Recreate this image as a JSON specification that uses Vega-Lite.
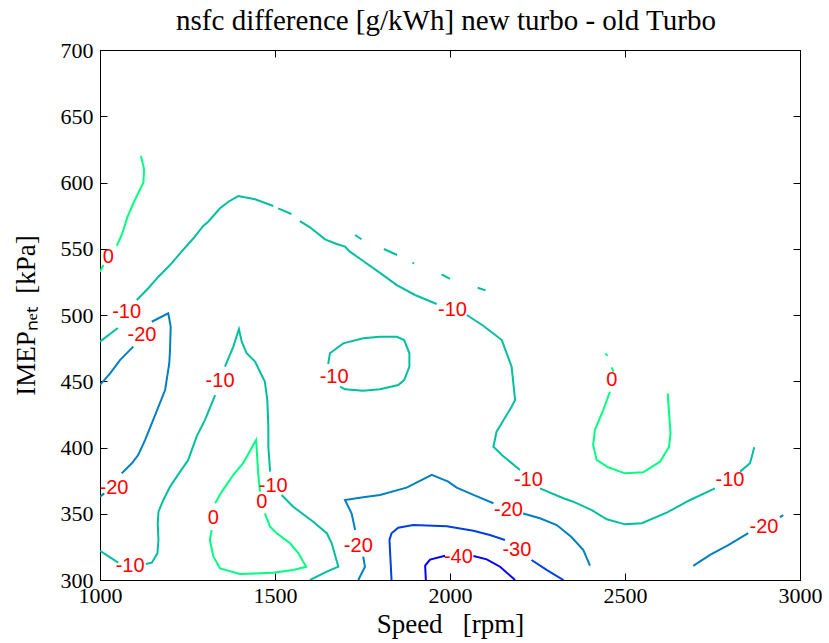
{
"$schema": "https://vega.github.io/schema/vega-lite/v6.json",
"width": 700, "height": 530,
"autosize": {"type": "none"},
"padding": {"left": 100, "top": 50, "right": 29, "bottom": 63},
"background": "white",
"title": {"text": "nsfc difference [g/kWh] new turbo - old Turbo", "font": "Liberation Serif", "fontSize": 29, "fontWeight": "normal", "color": "black", "offset": 3, "dx": -4},
"config": {"view": {"stroke": "black", "strokeWidth": 1}, "axis": {"grid": false, "domainColor": "black", "tickColor": "black", "labelColor": "black", "titleColor": "black", "labelFont": "Liberation Serif", "titleFont": "Liberation Serif", "labelFontSize": 22, "titleFontSize": 27, "titleFontWeight": "normal", "labelFlush": false, "labelOverlap": false, "tickSize": -7, "domainWidth": 1}},
"datasets": {
"lines": [
{"s":1,"l":0,"x":1117,"y":620.2},{"s":1,"l":0,"x":1126,"y":610},{"s":1,"l":0,"x":1124,"y":599.9},{"s":1,"l":0,"x":1109,"y":591.9},{"s":1,"l":0,"x":1093,"y":583},{"s":1,"l":0,"x":1078,"y":573.7},{"s":1,"l":0,"x":1064,"y":561.7},{"s":1,"l":0,"x":1048,"y":552.1},
{"s":2,"l":0,"x":1010,"y":537.7},{"s":2,"l":0,"x":1000,"y":532.7},
{"s":3,"l":-10,"x":1000,"y":479.9},{"s":3,"l":-10,"x":1051,"y":490.2},
{"s":4,"l":-10,"x":1105,"y":511.3},{"s":4,"l":-10,"x":1138,"y":520.2},{"s":4,"l":-10,"x":1167,"y":528.9},{"s":4,"l":-10,"x":1200,"y":537.7},{"s":4,"l":-10,"x":1233,"y":547.8},{"s":4,"l":-10,"x":1267,"y":557.9},{"s":4,"l":-10,"x":1295,"y":567.2},{"s":4,"l":-10,"x":1309,"y":570.4},{"s":4,"l":-10,"x":1343,"y":580.5},{"s":4,"l":-10,"x":1367,"y":585.5},{"s":4,"l":-10,"x":1395,"y":589.8},{"s":4,"l":-10,"x":1443,"y":587.3},{"s":4,"l":-10,"x":1495,"y":582.3},
{"s":5,"l":-10,"x":1509,"y":580.5},{"s":5,"l":-10,"x":1547,"y":576.2},
{"s":6,"l":-10,"x":1571,"y":570.9},{"s":6,"l":-10,"x":1600,"y":566.2},{"s":6,"l":-10,"x":1643,"y":557.1},{"s":6,"l":-10,"x":1676,"y":553.6},{"s":6,"l":-10,"x":1700,"y":551.6},{"s":6,"l":-10,"x":1714,"y":547.8},{"s":6,"l":-10,"x":1748,"y":541.5},{"s":6,"l":-10,"x":1805,"y":530.9},{"s":6,"l":-10,"x":1848,"y":522.6},{"s":6,"l":-10,"x":1900,"y":515.1},{"s":6,"l":-10,"x":1962,"y":508.3},
{"s":7,"l":-10,"x":2048,"y":500},{"s":7,"l":-10,"x":2095,"y":491.9},{"s":7,"l":-10,"x":2148,"y":481.1},{"s":7,"l":-10,"x":2176,"y":461},{"s":7,"l":-10,"x":2186,"y":435.9},{"s":7,"l":-10,"x":2176,"y":430.8},{"s":7,"l":-10,"x":2133,"y":411.9},{"s":7,"l":-10,"x":2124,"y":400.6},{"s":7,"l":-10,"x":2148,"y":394.3},{"s":7,"l":-10,"x":2200,"y":383},
{"s":8,"l":-10,"x":2257,"y":369.2},{"s":8,"l":-10,"x":2324,"y":361.7},{"s":8,"l":-10,"x":2352,"y":359.1},{"s":8,"l":-10,"x":2405,"y":352.8},{"s":8,"l":-10,"x":2448,"y":345.8},{"s":8,"l":-10,"x":2500,"y":342},{"s":8,"l":-10,"x":2548,"y":342.8},{"s":8,"l":-10,"x":2619,"y":350.8},{"s":8,"l":-10,"x":2686,"y":360.4},{"s":8,"l":-10,"x":2757,"y":369.2},
{"s":9,"l":-10,"x":2829,"y":381.8},{"s":9,"l":-10,"x":2857,"y":388.1},{"s":9,"l":-10,"x":2865,"y":395.6},{"s":9,"l":-10,"x":2869,"y":400.2},
{"s":10,"l":-10,"x":1729,"y":560.4},{"s":10,"l":-10,"x":1747,"y":557.2},
{"s":11,"l":-10,"x":1811,"y":549.8},{"s":11,"l":-10,"x":1849,"y":545.3},
{"s":12,"l":-10,"x":1893,"y":539.5},{"s":12,"l":-10,"x":1897,"y":538.8},
{"s":13,"l":-10,"x":1976,"y":530.7},{"s":13,"l":-10,"x":2000,"y":527.2},
{"s":14,"l":-10,"x":2079,"y":520.6},{"s":14,"l":-10,"x":2102,"y":518.6},
{"s":15,"l":-10,"x":1652,"y":463},{"s":15,"l":-10,"x":1657,"y":471.1},{"s":15,"l":-10,"x":1695,"y":478.6},{"s":15,"l":-10,"x":1752,"y":482.4},{"s":15,"l":-10,"x":1800,"y":483.6},{"s":15,"l":-10,"x":1848,"y":483.6},{"s":15,"l":-10,"x":1869,"y":481.1},{"s":15,"l":-10,"x":1884,"y":471.1},{"s":15,"l":-10,"x":1884,"y":461},{"s":15,"l":-10,"x":1869,"y":450.9},{"s":15,"l":-10,"x":1852,"y":447.2},{"s":15,"l":-10,"x":1800,"y":443.9},{"s":15,"l":-10,"x":1752,"y":442.9},{"s":15,"l":-10,"x":1700,"y":443.9},{"s":15,"l":-10,"x":1686,"y":445.9},
{"s":16,"l":-20,"x":1000,"y":362.9},{"s":16,"l":-20,"x":1012,"y":365.4},
{"s":17,"l":-20,"x":1062,"y":380.5},{"s":17,"l":-20,"x":1091,"y":388.1},{"s":17,"l":-20,"x":1109,"y":394.3},{"s":17,"l":-20,"x":1129,"y":405.7},{"s":17,"l":-20,"x":1152,"y":420.8},{"s":17,"l":-20,"x":1186,"y":443.4},{"s":17,"l":-20,"x":1198,"y":463.6},{"s":17,"l":-20,"x":1200,"y":473.6},{"s":17,"l":-20,"x":1202,"y":491.2},{"s":17,"l":-20,"x":1195,"y":501.3},{"s":17,"l":-20,"x":1148,"y":494.9},
{"s":18,"l":-20,"x":1095,"y":476.1},{"s":18,"l":-20,"x":1057,"y":466},{"s":18,"l":-20,"x":1029,"y":456},{"s":18,"l":-20,"x":1000,"y":447.2},
{"s":19,"l":-10,"x":1000,"y":322.1},{"s":19,"l":-10,"x":1052,"y":313.1},
{"s":20,"l":-10,"x":1131,"y":312.1},{"s":20,"l":-10,"x":1148,"y":313.1},{"s":20,"l":-10,"x":1164,"y":320.1},{"s":20,"l":-10,"x":1167,"y":330.2},{"s":20,"l":-10,"x":1165,"y":342.8},{"s":20,"l":-10,"x":1167,"y":351.6},{"s":20,"l":-10,"x":1181,"y":360.4},{"s":20,"l":-10,"x":1200,"y":370.4},{"s":20,"l":-10,"x":1229,"y":381.8},{"s":20,"l":-10,"x":1252,"y":390.6},{"s":20,"l":-10,"x":1276,"y":408.2},{"s":20,"l":-10,"x":1300,"y":420.8},{"s":20,"l":-10,"x":1329,"y":439.6},
{"s":21,"l":-10,"x":1357,"y":461},{"s":21,"l":-10,"x":1381,"y":476.1},{"s":21,"l":-10,"x":1397,"y":489.4},{"s":21,"l":-10,"x":1405,"y":479.9},{"s":21,"l":-10,"x":1419,"y":471.1},{"s":21,"l":-10,"x":1443,"y":464.8},{"s":21,"l":-10,"x":1457,"y":457.2},{"s":21,"l":-10,"x":1471,"y":449.7},{"s":21,"l":-10,"x":1478,"y":435.9},{"s":21,"l":-10,"x":1481,"y":415.7},{"s":21,"l":-10,"x":1481,"y":400.6},{"s":21,"l":-10,"x":1486,"y":381.8},
{"s":22,"l":-10,"x":1519,"y":364.2},{"s":22,"l":-10,"x":1552,"y":355.3},{"s":22,"l":-10,"x":1609,"y":344},{"s":22,"l":-10,"x":1648,"y":335.3},{"s":22,"l":-10,"x":1662,"y":327.7},{"s":22,"l":-10,"x":1681,"y":310},{"s":22,"l":-10,"x":1648,"y":306.3},{"s":22,"l":-10,"x":1600,"y":300},
{"s":23,"l":0,"x":1329,"y":357.9},{"s":23,"l":0,"x":1348,"y":366.7},{"s":23,"l":0,"x":1381,"y":379.3},{"s":23,"l":0,"x":1409,"y":388.1},{"s":23,"l":0,"x":1446,"y":405.7},{"s":23,"l":0,"x":1452,"y":380.5},{"s":23,"l":0,"x":1457,"y":366.7},
{"s":24,"l":0,"x":1471,"y":350.2},{"s":24,"l":0,"x":1486,"y":340.2},{"s":24,"l":0,"x":1505,"y":335.3},{"s":24,"l":0,"x":1543,"y":327.7},{"s":24,"l":0,"x":1567,"y":320.1},{"s":24,"l":0,"x":1589,"y":310},{"s":24,"l":0,"x":1552,"y":307.6},{"s":24,"l":0,"x":1495,"y":305.5},{"s":24,"l":0,"x":1400,"y":304.5},{"s":24,"l":0,"x":1343,"y":308.8},{"s":24,"l":0,"x":1324,"y":317.6},{"s":24,"l":0,"x":1314,"y":330.2},{"s":24,"l":0,"x":1319,"y":337.7},
{"s":25,"l":-20,"x":1738,"y":300},{"s":25,"l":-20,"x":1757,"y":310},{"s":25,"l":-20,"x":1752,"y":317.6},
{"s":26,"l":-20,"x":1729,"y":337.7},{"s":26,"l":-20,"x":1719,"y":350.2},{"s":26,"l":-20,"x":1700,"y":360.4},{"s":26,"l":-20,"x":1752,"y":362.4},{"s":26,"l":-20,"x":1800,"y":364.2},{"s":26,"l":-20,"x":1876,"y":369.7},{"s":26,"l":-20,"x":1948,"y":379.3},{"s":26,"l":-20,"x":1995,"y":374.2},{"s":26,"l":-20,"x":2019,"y":369.7},{"s":26,"l":-20,"x":2067,"y":364.2},{"s":26,"l":-20,"x":2124,"y":357.9},
{"s":27,"l":-20,"x":2209,"y":350.2},{"s":27,"l":-20,"x":2257,"y":346.6},{"s":27,"l":-20,"x":2305,"y":341.5},{"s":27,"l":-20,"x":2347,"y":332.4},{"s":27,"l":-20,"x":2381,"y":322.6},{"s":27,"l":-20,"x":2400,"y":310.8},
{"s":28,"l":-30,"x":1833,"y":300},{"s":28,"l":-30,"x":1827,"y":330.2},{"s":28,"l":-30,"x":1833,"y":335.3},{"s":28,"l":-30,"x":1852,"y":339.5},{"s":28,"l":-30,"x":1895,"y":341.5},{"s":28,"l":-30,"x":1991,"y":340.5},{"s":28,"l":-30,"x":2067,"y":337.2},{"s":28,"l":-30,"x":2114,"y":333.9},{"s":28,"l":-30,"x":2157,"y":330.2},
{"s":29,"l":-30,"x":2233,"y":315.1},{"s":29,"l":-30,"x":2276,"y":307.6},{"s":29,"l":-30,"x":2324,"y":300},
{"s":30,"l":-40,"x":1931,"y":300},{"s":30,"l":-40,"x":1929,"y":310.8},{"s":30,"l":-40,"x":1943,"y":315.4},{"s":30,"l":-40,"x":1986,"y":318.3},
{"s":31,"l":-40,"x":2067,"y":318.1},{"s":31,"l":-40,"x":2105,"y":315.6},{"s":31,"l":-40,"x":2143,"y":310},{"s":31,"l":-40,"x":2186,"y":300},
{"s":32,"l":0,"x":2444,"y":471},{"s":32,"l":0,"x":2450,"y":469.1},
{"s":33,"l":0,"x":2462,"y":460.5},{"s":33,"l":0,"x":2467,"y":457.2},
{"s":34,"l":0,"x":2457,"y":442.1},{"s":34,"l":0,"x":2438,"y":428.3},{"s":34,"l":0,"x":2414,"y":413.2},{"s":34,"l":0,"x":2409,"y":401.9},{"s":34,"l":0,"x":2419,"y":390.6},{"s":34,"l":0,"x":2452,"y":385.1},{"s":34,"l":0,"x":2500,"y":380.5},{"s":34,"l":0,"x":2552,"y":381.3},{"s":34,"l":0,"x":2600,"y":389.3},{"s":34,"l":0,"x":2626,"y":400.6},{"s":34,"l":0,"x":2630,"y":410.7},{"s":34,"l":0,"x":2626,"y":425.8},{"s":34,"l":0,"x":2622,"y":440.9},
{"s":35,"l":-20,"x":2695,"y":310.6},{"s":35,"l":-20,"x":2743,"y":318.9},{"s":35,"l":-20,"x":2795,"y":326.4},{"s":35,"l":-20,"x":2852,"y":335.3},
{"s":36,"l":-20,"x":2943,"y":347.3},{"s":36,"l":-20,"x":2952,"y":349.1}
],
"labels": [
{"t":"0","x":1024,"y":543.8},{"t":"-10","x":1076,"y":502.5},{"t":"-20","x":1120,"y":484.9},{"t":"-10","x":1343,"y":450.4},{"t":"-10","x":1669,"y":453.2},{"t":"-10","x":2007,"y":503.8},{"t":"0","x":2462,"y":450.9},{"t":"-20","x":1040,"y":369.4},{"t":"-10","x":1086,"y":310.6},{"t":"0","x":1324,"y":346.6},{"t":"0","x":1462,"y":359.1},{"t":"-10","x":1495,"y":370.9},{"t":"-20","x":1738,"y":325.9},{"t":"-10","x":2224,"y":375.5},{"t":"-20","x":2167,"y":352.8},{"t":"-30","x":2191,"y":322.6},{"t":"-40","x":2024,"y":317.6},{"t":"-10","x":2800,"y":375.5},{"t":"-20","x":2897,"y":340.2}
]
},
"resolve": {"axis": {"x": "independent", "y": "independent"}},
"layer": [
{"data": {"name": "lines"},
 "mark": {"type": "line", "strokeWidth": 2, "clip": true},
 "encoding": {
  "x": {"field": "x", "type": "quantitative", "scale": {"domain": [1000, 3000], "nice": false, "zero": false}, "axis": {"orient": "bottom", "values": [1000, 1500, 2000, 2500, 3000], "format": "d", "labelPadding": 12, "title": "Speed\u00a0\u00a0\u00a0[rpm]", "titlePadding": 5}},
  "y": {"field": "y", "type": "quantitative", "scale": {"domain": [300, 700], "nice": false, "zero": false}, "axis": {"orient": "left", "values": [300, 350, 400, 450, 500, 550, 600, 650, 700], "format": "d", "labelPadding": 14, "title": "IMEPₙₑₜ\u00a0\u00a0[kPa]", "titlePadding": 20}},
  "color": {"field": "l", "type": "ordinal", "scale": {"domain": [-40, -30, -20, -10, 0], "range": ["#0000ff", "#0040df", "#0080bf", "#00bf9f", "#00ff80"]}, "legend": null},
  "detail": {"field": "s", "type": "nominal"},
  "order": {"value": null}
 }},
{"data": {"name": "labels"},
 "mark": {"type": "text", "font": "Liberation Sans", "fontSize": 20, "color": "#ff0000", "align": "center", "baseline": "middle"},
 "encoding": {
  "x": {"field": "x", "type": "quantitative", "axis": {"orient": "top", "values": [1000, 1500, 2000, 2500, 3000], "labels": false, "title": null}},
  "y": {"field": "y", "type": "quantitative", "axis": {"orient": "right", "values": [300, 350, 400, 450, 500, 550, 600, 650, 700], "labels": false, "title": null}},
  "text": {"field": "t", "type": "nominal"}
 }}
]
}
